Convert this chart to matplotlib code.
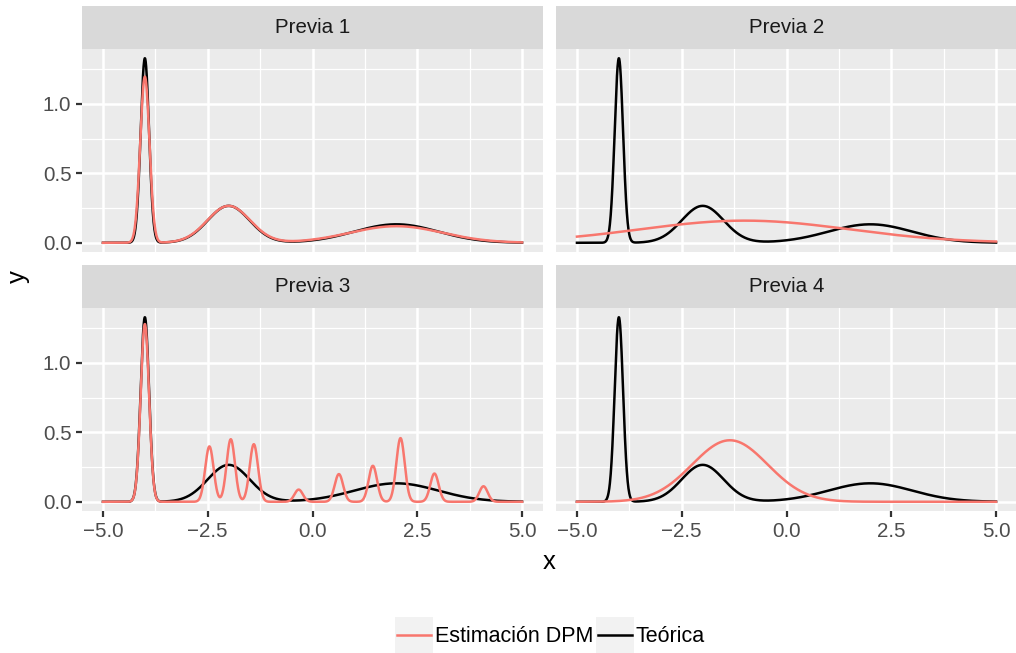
import matplotlib.pyplot as plt
import numpy as np

plt.rcParams['font.family'] = ['Liberation Sans', 'DejaVu Sans']

# Componentes de las mezclas normales: medias, desv. tipicas, pesos
teo_mu = [-4.0, -2.0, 2.0]
teo_sd = [0.1, 0.5, 1.0]
teo_w = [0.3333, 0.3333, 0.3334]

dpm1_mu = [-4.0, -2.0, 2.0]
dpm1_sd = [0.11, 0.51, 1.1]
dpm1_w = [0.33, 0.34, 0.33]

dpm2_mu = [-1.0]
dpm2_sd = [2.5]
dpm2_w = [1.0]

dpm3_mu = [-4.0, -2.46, -1.95, -1.40, -0.33, 0.63, 1.44, 2.10, 2.91, 4.08]
dpm3_sd = [0.1, 0.1, 0.1, 0.1, 0.1, 0.1, 0.1, 0.1, 0.1, 0.1]
dpm3_w = [0.321, 0.100, 0.113, 0.104, 0.022, 0.050, 0.065, 0.115, 0.051, 0.028]

dpm4_mu = [-1.35]
dpm4_sd = [0.9]
dpm4_w = [1.0]

paneles = ['Previa 1', 'Previa 2', 'Previa 3', 'Previa 4']
estimaciones = [(dpm1_mu, dpm1_sd, dpm1_w), (dpm2_mu, dpm2_sd, dpm2_w),
                (dpm3_mu, dpm3_sd, dpm3_w), (dpm4_mu, dpm4_sd, dpm4_w)]
etiquetas = ['Estimación DPM', 'Teórica']
colores = ['#F8766D', 'black']


def mezcla(x, mu, sd, w):
    y = np.zeros_like(x)
    for m, s, p in zip(mu, sd, w):
        y += p * np.exp(-0.5 * ((x - m) / s) ** 2) / (s * np.sqrt(2 * np.pi))
    return y


def fmt(v, pos):
    return ('%.1f' % v).replace('-', '\u2212')


x = np.linspace(-5, 5, 2001)
teorica = mezcla(x, teo_mu, teo_sd, teo_w)
dpm = [mezcla(x, *e) for e in estimaciones]
ymax = max(teorica.max(), max(d.max() for d in dpm))

W, H = 1016, 653
fig = plt.figure(figsize=(W / 100, H / 100), dpi=100)

# posiciones de los paneles en pixeles: (izquierda, arriba del panel)
lefts = [82, 556, 82, 556]
tops = [49, 49, 308, 308]
pw, ph, sh = 461, 203, 43

for i, nombre in enumerate(paneles):
    l, t = lefts[i], tops[i]
    ax = fig.add_axes([l / W, 1 - (t + ph) / H, pw / W, ph / H])
    ax.set_facecolor('#EBEBEB')
    for sp in ax.spines.values():
        sp.set_visible(False)
    ax.plot(x, teorica, color=colores[1], lw=1.8, zorder=3)
    ax.plot(x, dpm[i], color=colores[0], lw=1.8, zorder=4)
    ax.set_xlim(-5.5, 5.5)
    ax.set_ylim(-0.05 * ymax, 1.05 * ymax)
    ax.set_xticks([-5, -2.5, 0, 2.5, 5])
    ax.set_xticks([-3.75, -1.25, 1.25, 3.75], minor=True)
    ax.set_yticks([0, 0.5, 1.0])
    ax.set_yticks([0.25, 0.75, 1.25], minor=True)
    ax.xaxis.set_major_formatter(plt.FuncFormatter(fmt))
    ax.yaxis.set_major_formatter(plt.FuncFormatter(fmt))
    ax.grid(which='major', color='white', lw=1.8)
    ax.grid(which='minor', color='white', lw=0.9)
    ax.set_axisbelow(True)
    ax.tick_params(which='minor', length=0)
    ax.tick_params(which='major', length=4.6, width=1.6, color='#333333',
                   labelcolor='#4D4D4D', labelsize=14.8, pad=3)
    if i < 2:
        ax.tick_params(axis='x', length=0, labelbottom=False)
    if i % 2 == 1:
        ax.tick_params(axis='y', length=0, labelleft=False)

    st = fig.add_axes([l / W, 1 - t / H, pw / W, sh / H])
    st.set_facecolor('#D9D9D9')
    st.set_xticks([])
    st.set_yticks([])
    for sp in st.spines.values():
        sp.set_visible(False)
    st.text(0.5, 0.5, nombre, ha='center', va='center', fontsize=14.8,
            color='#1A1A1A', transform=st.transAxes)

fig.text(549 / W, 1 - 562 / H, 'x', ha='center', va='center', fontsize=18.5)
fig.text(18 / W, 1 - 277 / H, 'y', ha='center', va='center', fontsize=18.5,
         rotation=90)

# leyenda
claves = [395, 596]
for k, (lab, col) in enumerate(zip(etiquetas, colores)):
    kx = fig.add_axes([claves[k] / W, 0, 38 / W, 36 / H])
    kx.set_facecolor('#F2F2F2')
    kx.set_xticks([])
    kx.set_yticks([])
    for sp in kx.spines.values():
        sp.set_visible(False)
    kx.plot([0.05, 0.95], [0.5, 0.5], color=col, lw=1.8)
    kx.set_xlim(0, 1)
    kx.set_ylim(0, 1)
    fig.text((claves[k] + 40) / W, 1 - 636 / H, lab, ha='left', va='center',
             fontsize=15.5, color='black')

fig.savefig('out.png', dpi=100)
